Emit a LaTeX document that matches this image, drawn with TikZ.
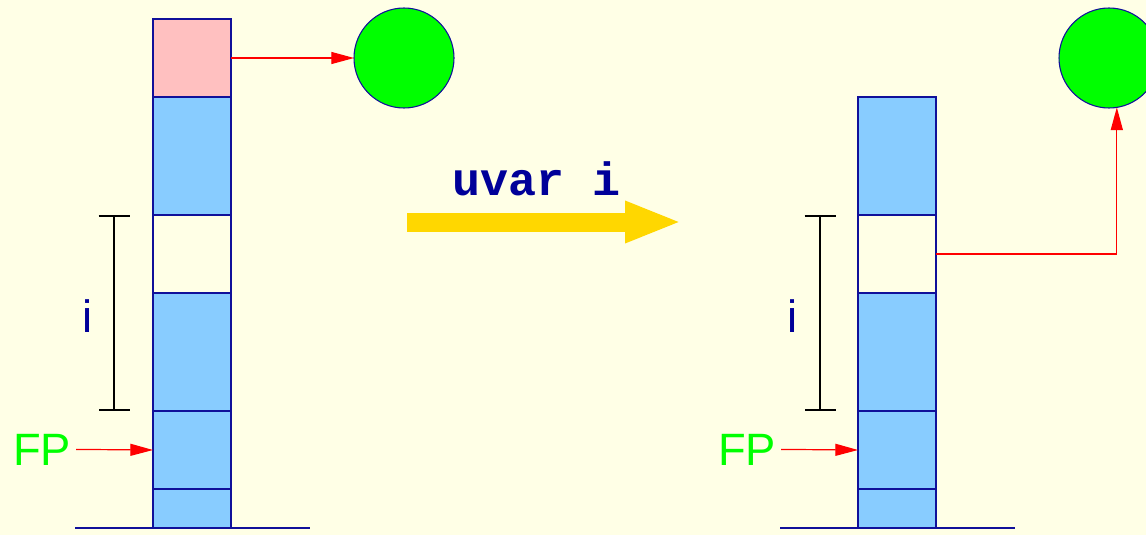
\documentclass[tikz,border=0pt]{standalone}
\usepackage{fontspec}
\setmainfont{Liberation Sans}
\setmonofont{Liberation Mono}
\usetikzlibrary{arrows.meta}
\definecolor{bg}{HTML}{FFFFE6}
\definecolor{cellblue}{HTML}{88CCFF}
\definecolor{cellpink}{HTML}{FFC0C0}
\definecolor{navyl}{HTML}{10109A}
\definecolor{txt}{HTML}{000099}
\definecolor{fpgreen}{HTML}{00FF00}
\definecolor{goldy}{HTML}{FFD700}
\tikzset{
  cell/.style={draw=navyl, line width=1pt, rectangle, inner sep=0pt, outer sep=0pt, minimum width=58.5pt, anchor=north west},
  cellbig/.style={minimum height=88.5pt},
  cellmid/.style={minimum height=58.5pt},
  cellsmall/.style={minimum height=29.25pt},
  bluefill/.style={fill=cellblue},
  pinkfill/.style={fill=cellpink},
  ball/.style={circle, draw=navyl, fill=fpgreen, line width=0.8pt, minimum size=75pt, inner sep=0pt, outer sep=0pt},
  redarr/.style={draw=red, line width=0.9pt, -{Triangle[length=17pt,width=9pt]}},
  ground/.style={draw=navyl, line width=0.9pt},
  bracket/.style={draw=black, line width=1.5pt, {Bar[width=23.25pt]}-{Bar[width=23.25pt]}},
  lbl/.style={text=txt, font=\fontsize{34}{40}\selectfont, inner sep=0pt, anchor=base},
  fplbl/.style={text=fpgreen, font=\fontsize{34}{40}\selectfont, inner xsep=3.75pt, inner ysep=0pt, anchor=base},
  cmd/.style={text=txt, font=\fontsize{35}{40}\selectfont\ttfamily\bfseries, inner sep=0pt, anchor=base},
  bigarrow/.style={draw=goldy, line width=14.25pt, -{Triangle[length=42.75pt,width=28.5pt]}}
}
\begin{document}
\begin{tikzpicture}[x=0.75pt,y=-0.75pt]
\useasboundingbox (0,0) rectangle (1146,535);
\clip (0,0) rectangle (1146,535);
\fill[bg] (0,0) rectangle (1146,535);

% left stack
\node[cell,cellmid,pinkfill] (pL) at (153,19) {};
\node[cell,cellbig,bluefill] (b1L) at (153,97) {};
\node[cell,cellmid] (wL) at (153,215) {};
\node[cell,cellbig,bluefill] (b2L) at (153,293) {};
\node[cell,cellmid,bluefill] (b3L) at (153,411) {};
\node[cell,cellsmall,bluefill] (b4L) at (153,489) {};
\coordinate (gL1) at (75,528);
\coordinate (gL2) at (310,528);
\draw[ground] (gL1) -- (gL2);
\node[ball] (cL) at (404,58) {};
\draw[redarr] (pL.east) -- (cL.west);
\coordinate (brL1) at (114,215);
\coordinate (brL2) at (114,411);
\draw[bracket] (brL1) -- (brL2);
\node[lbl] (iL) at (88,332) {i};
\node[fplbl] (fpL) at (42,465) {FP};
\draw[redarr] (fpL.east) -- (b3L.west);

% transition arrow
\node[cmd] (cmdtxt) at (537,195) {uvar i};
\coordinate (ya) at (407,222);
\coordinate (yb) at (682,222);
\draw[bigarrow] (ya) -- (yb);

% right stack
\node[cell,cellbig,bluefill] (b1R) at (858,97) {};
\node[cell,cellmid] (wR) at (858,215) {};
\node[cell,cellbig,bluefill] (b2R) at (858,293) {};
\node[cell,cellmid,bluefill] (b3R) at (858,411) {};
\node[cell,cellsmall,bluefill] (b4R) at (858,489) {};
\coordinate (gR1) at (780,528);
\coordinate (gR2) at (1015,528);
\draw[ground] (gR1) -- (gR2);
\node[ball] (cR) at (1109,58) {};
\draw[redarr] (wR.east) -| (cR.-81);
\coordinate (brR1) at (820,215);
\coordinate (brR2) at (820,411);
\draw[bracket] (brR1) -- (brR2);
\node[lbl] (iR) at (793,332) {i};
\node[fplbl] (fpR) at (747,465) {FP};
\draw[redarr] (fpR.east) -- (b3R.west);
\end{tikzpicture}
\end{document}
